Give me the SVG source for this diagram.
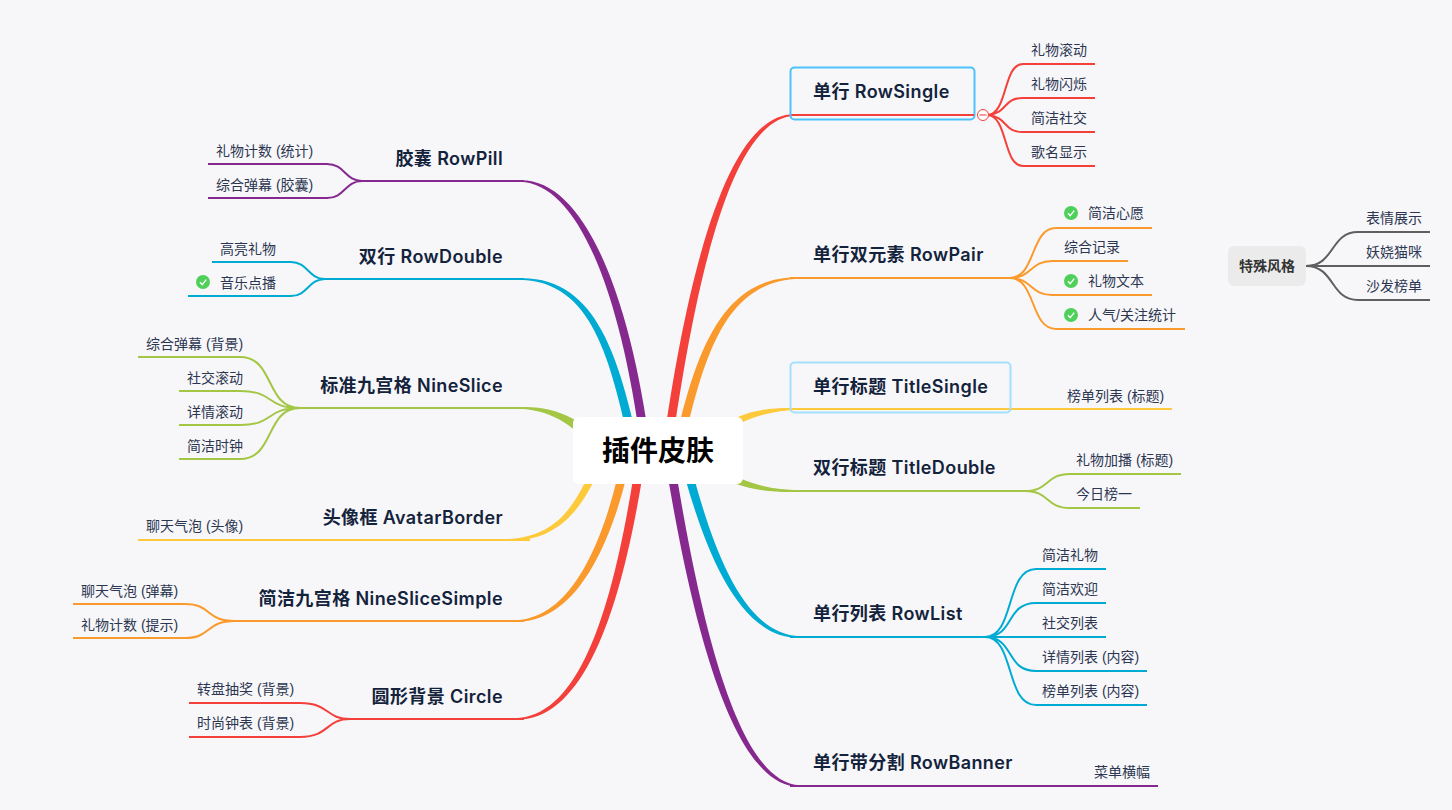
<svg xmlns="http://www.w3.org/2000/svg" width="1452" height="810" viewBox="0 0 1452 810">
<style>
.t{font-family:"Liberation Sans","Noto Sans CJK SC",sans-serif;font-size:14px;fill:#2c3650}
.l{font-family:Inter,"Noto Sans CJK SC",sans-serif;font-size:18px;font-weight:600;letter-spacing:.4px;fill:#14233c}
.e{text-anchor:end}
.s{fill:none;stroke-width:2}
.red{stroke:#f4403a}.ora{stroke:#fb9a2c}.yel{stroke:#fdca3c}.gre{stroke:#a3c644}.cya{stroke:#00abd3}.pur{stroke:#86298f}.gra{stroke:#5f5f5f}
</style>
<defs>
<g id="ok"><circle r="7" fill="#4fd05a"/><path d="M-3 0.2L-0.8 2.6L3.2 -2.4" fill="none" stroke="#fff" stroke-width="1.4"/></g>
</defs>
<rect width="1452" height="810" fill="#f7f7fa"/>
<g id="connectors">
<!-- main tapered branches -->
<path fill="#f4403a" d="M662.500 450C690.500 250 732.500 112.500 795 114.200L795 115.800C737.500 117.500 699.500 250 671.500 450Z"/>
<path fill="#fb9a2c" d="M673.500 450C695.500 350 722.500 275.500 800 277.200L800 278.800C727.500 280.500 704.500 350 682.500 450Z"/>
<path fill="#fdca3c" d="M713 432C738 412 763 407 800 408.200L800 409.800C767 411 743 418 718 438Z"/>
<path fill="#a3c644" d="M708 469C735 488 762 493 800 491.800L800 490.200C768 489.500 741 483 714 463Z"/>
<path fill="#00abd3" d="M677.500 450C698.500 530 732.500 639.500 800 637.800L800 636.200C737.500 634.500 707.500 530 686.500 450Z"/>
<path fill="#86298f" d="M663.500 450C690.500 620 732.500 788.500 800 786.800L800 785.200C737.500 783.500 699.500 620 672.500 450Z"/>
<path fill="#86298f" d="M650.500 450C629.500 290 582.500 178.500 520 180.200L520 181.800C577.500 183.500 620.500 290 641.500 450Z"/>
<path fill="#00abd3" d="M639.500 450C619.500 360 597.500 276.500 520 278.200L520 279.800C592.500 281.500 610.500 360 630.500 450Z"/>
<path fill="#a3c644" d="M600 440C585 424 560 405.500 520 407.200L520 408.800C556 410.500 577 430 592 448Z"/>
<path fill="#fdca3c" d="M604 460C584 505 562 542.500 505 540.800L505 539.200C558 537.500 576 505 595 460Z"/>
<path fill="#fb9a2c" d="M632.500 450C614.500 540 577.500 623.500 515 621.800L515 620.200C572.500 618.500 605.500 540 623.500 450Z"/>
<path fill="#f4403a" d="M646.500 450C624.500 600 587.500 721.500 515 719.800L515 718.200C582.500 716.500 615.500 600 637.500 450Z"/>
<!-- right: RowSingle -->
<path class="s red" d="M790 115H975"/>
<path class="s red" d="M988 115C1008 113 1003 64 1023 64H1095M988 115C1008 113 1003 98 1023 98H1095M988 115C1008 117 1003 132 1023 132H1095M988 115C1008 117 1003 166 1023 166H1095"/>
<!-- RowPair -->
<path class="s ora" d="M790 278H1010"/>
<path class="s ora" d="M1010 278C1036 278 1030 228 1056 228H1152M1010 278C1032 278 1030 261 1052 261H1128M1010 278C1032 278 1030 295 1052 295H1152M1010 278C1036 278 1030 329 1056 329H1185"/>
<!-- TitleSingle -->
<path class="s yel" d="M790 409H1172"/>
<!-- TitleDouble -->
<path class="s gre" d="M790 491H1025"/>
<path class="s gre" d="M1025 491C1050 491 1045 474 1070 474H1181M1025 491C1050 491 1045 508 1070 508H1140"/>
<!-- RowList -->
<path class="s cya" d="M790 637H985"/>
<path class="s cya" d="M985 637C1015 637 1005 569 1036 569H1106M985 637C1015 637 1005 603 1036 603H1106M985 637H1106M985 637C1015 637 1005 671 1036 671H1147M985 637C1015 637 1005 705 1036 705H1147"/>
<!-- RowBanner -->
<path class="s pur" d="M790 786H1158"/>
<!-- special -->
<path class="s gra" d="M1306 266C1335 266 1330 232 1358 232H1430M1306 266H1430M1306 266C1335 266 1330 300 1358 300H1430"/>
<!-- left -->
<path class="s pur" d="M524 181H362"/>
<path class="s pur" d="M362 181C345 181 345 164 327 164H208M362 181C345 181 345 198 327 198H208"/>
<path class="s cya" d="M524 279H325"/>
<path class="s cya" d="M325 279C308 279 308 262 291 262H212M325 279C308 279 308 296 291 296H188"/>
<path class="s gre" d="M524 408H295"/>
<path class="s gre" d="M300 408C265 408 275 357 240 357H138M300 408C265 408 275 391 240 391H179M300 408C265 408 275 425 240 425H179M300 408C265 408 275 459 240 459H179"/>
<path class="s yel" d="M530 540H138"/>
<path class="s ora" d="M524 621H228"/>
<path class="s ora" d="M235 621C205 621 212 604 185 604H73M235 621C205 621 212 638 185 638H73"/>
<path class="s red" d="M524 719H345"/>
<path class="s red" d="M350 719C325 719 330 703 300 703H189M350 719C325 719 330 737 300 737H189"/>
</g>
<g id="root"><rect x="573" y="417" width="170" height="67" rx="6" fill="#fff"/><text x="658" y="461" text-anchor="middle" font-family="'Noto Sans CJK SC',sans-serif" font-size="28" font-weight="700" fill="#000">插件皮肤</text></g>
<g id="n-rowsingle"><rect x="790.500" y="67.500" width="184" height="52" rx="4" fill="none" stroke="#4cc2fb" stroke-width="2"/><path class="s red" d="M792 115H974"/><text class="l" x="813" y="98">单行 RowSingle</text>
<circle cx="983" cy="115" r="5.500" fill="#fff" stroke="#f4403a"/><path d="M979.500 115H986.500" stroke="#f79a96" stroke-width="2"/></g>
<g id="n-rowsingle-c"><text class="t" x="1031" y="55">礼物滚动</text><text class="t" x="1031" y="89">礼物闪烁</text><text class="t" x="1031" y="123">简洁社交</text><text class="t" x="1031" y="157">歌名显示</text></g>
<g id="n-rowpair"><text class="l" x="813" y="261">单行双元素 RowPair</text></g>
<g id="n-rowpair-c"><use href="#ok" x="1071" y="213"/><text class="t" x="1088" y="218">简洁心愿</text><text class="t" x="1064" y="252">综合记录</text><use href="#ok" x="1071" y="281"/><text class="t" x="1088" y="286">礼物文本</text><use href="#ok" x="1071" y="315"/><text class="t" x="1088" y="320">人气/关注统计</text></g>
<g id="n-titlesingle"><rect x="790.500" y="362.500" width="220" height="50" rx="4" fill="none" stroke="#a3e0fb" stroke-width="2"/><text class="l" x="813" y="393">单行标题 TitleSingle</text><text class="t" x="1067" y="401">榜单列表 (标题)</text></g>
<g id="n-titledouble"><text class="l" x="813" y="474">双行标题 TitleDouble</text><text class="t" x="1076" y="465">礼物加播 (标题)</text><text class="t" x="1076" y="499">今日榜一</text></g>
<g id="n-rowlist"><text class="l" x="813" y="620">单行列表 RowList</text><text class="t" x="1042" y="560">简洁礼物</text><text class="t" x="1042" y="594">简洁欢迎</text><text class="t" x="1042" y="628">社交列表</text><text class="t" x="1042" y="662">详情列表 (内容)</text><text class="t" x="1042" y="696">榜单列表 (内容)</text></g>
<g id="n-rowbanner"><text class="l" x="813" y="769">单行带分割 RowBanner</text><text class="t" x="1094" y="777">菜单横幅</text></g>
<g id="n-special"><rect x="1228" y="246" width="78" height="40" rx="6" fill="#ebebeb"/><text x="1267" y="271" text-anchor="middle" font-family="'Noto Sans CJK SC',sans-serif" font-size="14" font-weight="700" fill="#333">特殊风格</text><text class="t" x="1366" y="223">表情展示</text><text class="t" x="1366" y="257">妖娆猫咪</text><text class="t" x="1366" y="291">沙发榜单</text></g>
<g id="n-rowpill"><text class="l e" x="503" y="165">胶囊 RowPill</text><text class="t" x="216" y="156">礼物计数 (统计)</text><text class="t" x="216" y="190">综合弹幕 (胶囊)</text></g>
<g id="n-rowdouble"><text class="l e" x="503" y="263">双行 RowDouble</text><text class="t" x="220" y="254">高亮礼物</text><use href="#ok" x="203" y="282"/><text class="t" x="220" y="288">音乐点播</text></g>
<g id="n-nineslice"><text class="l e" x="503" y="392">标准九宫格 NineSlice</text><text class="t" x="146" y="349">综合弹幕 (背景)</text><text class="t" x="187" y="383">社交滚动</text><text class="t" x="187" y="417">详情滚动</text><text class="t" x="187" y="451">简洁时钟</text></g>
<g id="n-avatar"><text class="l e" x="503" y="524">头像框 AvatarBorder</text><text class="t" x="146" y="531">聊天气泡 (头像)</text></g>
<g id="n-simple"><text class="l e" x="503" y="605">简洁九宫格 NineSliceSimple</text><text class="t" x="81" y="596">聊天气泡 (弹幕)</text><text class="t" x="81" y="630">礼物计数 (提示)</text></g>
<g id="n-circle"><text class="l e" x="503" y="703">圆形背景 Circle</text><text class="t" x="197" y="694">转盘抽奖 (背景)</text><text class="t" x="197" y="728">时尚钟表 (背景)</text></g>
</svg>
